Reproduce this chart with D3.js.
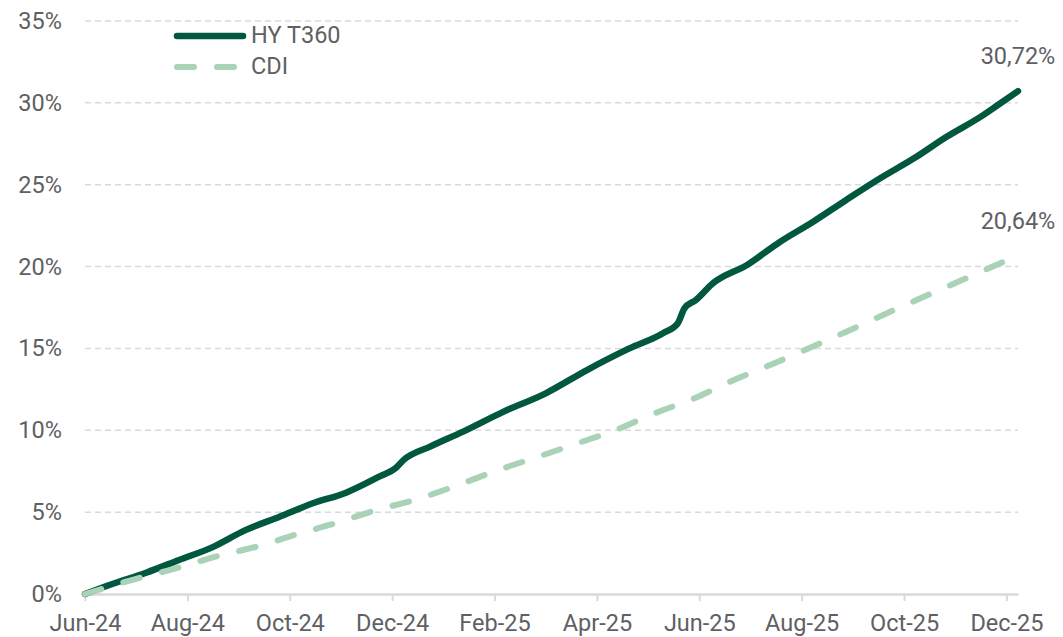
<!DOCTYPE html>
<html>
<head>
<meta charset="utf-8">
<script src="https://cdn.jsdelivr.net/npm/d3@7"></script>
<style>
body { margin: 0; background: #fff; }
text { font-family: Roboto, sans-serif; }
</style>
</head>
<body>
<svg id="chart"></svg>
<script>
// data (cumulative return, %)
var hyDates = ["2024-06-01","2024-06-17","2024-07-07","2024-07-27","2024-08-16","2024-09-05",
    "2024-09-25","2024-10-15","2024-11-04","2024-11-24","2024-12-03","2024-12-08","2024-12-24",
    "2025-01-13","2025-02-06","2025-03-01","2025-03-26","2025-04-20","2025-05-10","2025-05-19",
    "2025-05-23","2025-05-30","2025-06-09","2025-06-29","2025-07-19","2025-08-08","2025-08-28",
    "2025-09-17","2025-10-07","2025-10-27","2025-11-16","2025-11-26","2025-12-08"]
var hyValues = [0,0.61,1.30,2.08,2.85,3.90,
    4.72,5.54,6.19,7.20,7.68,8.19,9.00,
    9.92,11.14,12.26,13.68,15.00,15.93,16.54,
    17.45,17.96,18.98,20.10,21.52,22.74,24.07,
    25.39,26.61,27.94,29.16,29.87,30.72]

var cdiDates = ["2024-06-01","2024-06-30","2024-07-25","2024-08-18","2024-09-13","2024-10-06",
    "2024-10-30","2024-11-23","2024-12-11","2024-12-18","2025-01-10","2025-02-03","2025-02-25",
    "2025-03-20","2025-04-13","2025-05-05","2025-05-29","2025-06-19","2025-07-13","2025-08-05",
    "2025-08-28","2025-09-21","2025-10-14","2025-11-06","2025-12-02","2025-12-08"]
var cdiValues = [0,0.90,1.57,2.28,2.93,3.67,
    4.36,5.17,5.64,5.85,6.66,7.57,8.39,
    9.20,10.06,11.04,11.95,12.97,13.99,15.00,
    16.02,17.15,18.20,19.22,20.40,20.64]

var seriesNames = ["HY T360","CDI"]
var xTickLabels = ["Jun-24","Aug-24","Oct-24","Dec-24","Feb-25","Apr-25","Jun-25","Aug-25","Oct-25","Dec-25"]
var yTickValues = [0,5,10,15,20,25,30,35]
var endLabels = ["30,72%","20,64%"]

var screen = {width:1063, height:637}
var plot = {left:85, right:1018, top:21, bottom:594}
var colors = {hy:"#02583e", cdi:"#a9d2b6", grid:"#d9d9d9", text:"#5f6064"}
var fontSize = "23.5px"

var parseDate = d3.timeParse("%Y-%m-%d")

// position in months from Jun-24 (axis is evenly spaced per month)
var monthPos = function(s)
{
    var d = parseDate(s)
    var start = d3.timeMonth.floor(d)
    var next = d3.timeMonth.offset(start,1)
    return (d.getFullYear()-2024)*12 + d.getMonth() - 5 + (d-start)/(next-start)
}

var hy = hyDates.map(function(d,i){ return {x:monthPos(d), y:hyValues[i]} })
var cdi = cdiDates.map(function(d,i){ return {x:monthPos(d), y:cdiValues[i]} })

var svg = d3.select("#chart")
    .attr("width",screen.width)
    .attr("height",screen.height)

var xScale = d3.scaleLinear()
    .domain([0, monthPos(hyDates[hyDates.length-1])])
    .range([plot.left, plot.right])

var yScale = d3.scaleLinear()
    .domain([0,35])
    .range([plot.bottom, plot.top])

// gridlines
svg.append("g")
    .selectAll("line")
    .data(yTickValues.slice(1))
    .enter()
    .append("line")
    .attr("x1",plot.left)
    .attr("x2",plot.right)
    .attr("y1",function(d){ return yScale(d) })
    .attr("y2",function(d){ return yScale(d) })
    .attr("stroke",colors.grid)
    .attr("stroke-width",1.5)
    .attr("stroke-dasharray","6,4")

// y axis labels
var yAxis = d3.axisLeft(yScale)
    .tickValues(yTickValues)
    .tickFormat(function(d){ return d + "%" })
    .tickSize(0)
    .tickPadding(23)

var yG = svg.append("g")
    .attr("transform","translate("+plot.left+",0)")
    .call(yAxis)
yG.select(".domain").remove()
yG.selectAll("text")
    .attr("fill",colors.text)
    .style("font-size",fontSize)
    .style("font-family","Roboto, sans-serif")

// x axis
var xAxis = d3.axisBottom(xScale)
    .tickValues(d3.range(0,19,2))
    .tickFormat(function(d,i){ return xTickLabels[i] })
    .tickSizeInner(7)
    .tickSizeOuter(0)
    .tickPadding(13)

var xG = svg.append("g")
    .attr("transform","translate(0,"+plot.bottom+")")
    .call(xAxis)
xG.select(".domain")
    .attr("stroke",colors.grid)
    .attr("stroke-width",2.5)
xG.selectAll(".tick line")
    .attr("stroke",colors.grid)
    .attr("stroke-width",2)
xG.selectAll("text")
    .attr("fill",colors.text)
    .style("font-size",fontSize)
    .style("font-family","Roboto, sans-serif")

var line = d3.line()
    .x(function(d){ return xScale(d.x) })
    .y(function(d){ return yScale(d.y) })
    .curve(d3.curveMonotoneX)

svg.append("path")
    .datum(hy)
    .attr("d",line)
    .attr("fill","none")
    .attr("stroke",colors.hy)
    .attr("stroke-width",6.5)
    .attr("stroke-linecap","round")
    .attr("stroke-linejoin","round")

svg.append("path")
    .datum(cdi)
    .attr("d",line)
    .attr("fill","none")
    .attr("stroke",colors.cdi)
    .attr("stroke-width",6)
    .attr("stroke-linecap","round")
    .attr("stroke-dasharray","17,23")

// end labels
var ends = [hy[hy.length-1], cdi[cdi.length-1]]
svg.append("g")
    .selectAll("text")
    .data(ends)
    .enter()
    .append("text")
    .attr("x",function(d){ return xScale(d.x) })
    .attr("y",function(d){ return yScale(d.y) - 33 })
    .attr("text-anchor","middle")
    .attr("dominant-baseline","middle")
    .attr("fill",colors.text)
    .style("font-size",fontSize)
    .text(function(d,i){ return endLabels[i] })

// legend
var legend = svg.append("g")
legend.append("line")
    .attr("x1",177).attr("x2",243)
    .attr("y1",36).attr("y2",36)
    .attr("stroke",colors.hy)
    .attr("stroke-width",6.5)
    .attr("stroke-linecap","round")
legend.append("line")
    .attr("x1",177).attr("x2",240)
    .attr("y1",67).attr("y2",67)
    .attr("stroke",colors.cdi)
    .attr("stroke-width",6)
    .attr("stroke-linecap","round")
    .attr("stroke-dasharray","17,23")
legend.selectAll("text")
    .data(seriesNames)
    .enter()
    .append("text")
    .attr("x",251)
    .attr("y",function(d,i){ return 37 + i*31 })
    .attr("dominant-baseline","middle")
    .attr("fill",colors.text)
    .style("font-size",fontSize)
    .text(function(d){ return d })
</script>
</body>
</html>
